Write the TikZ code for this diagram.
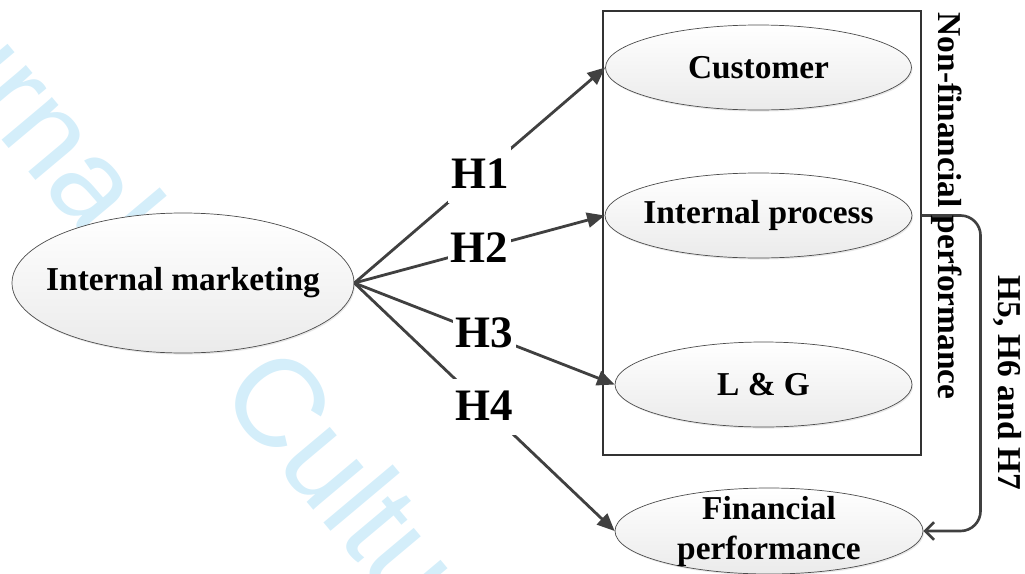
\documentclass[tikz,border=0pt]{standalone}
\usepackage{fontspec}
\setmainfont{Liberation Serif}
\newfontfamily\wmfont{Liberation Sans}
\usetikzlibrary{arrows.meta,shapes.geometric,shadows}
\definecolor{linegray}{RGB}{64,64,64}
\definecolor{wmcyan}{RGB}{212,238,250}

\begin{document}
\begin{tikzpicture}[
		construct/.style={ellipse, draw=black!70, line width=0.4pt, top color=white, bottom color=black!8,
				drop shadow={opacity=0.18, shadow xshift=0.6pt, shadow yshift=-0.9pt},
				font=\fontsize{19}{22.8}\selectfont\bfseries, align=center, inner xsep=-12pt, inner ysep=-6pt},
		hypo/.style={line width=1.6pt, draw=linegray, -{Triangle[length=10pt,width=8.5pt]}},
		hlabel/.style={fill=white, font=\fontsize{25.6}{30}\selectfont\bfseries,
				inner xsep=1.5pt, inner ysep=0pt, text height=23.5pt, text depth=8.4pt},
		vlabel/.style={rotate=-90, font=\fontsize{19}{22.8}\selectfont\bfseries, inner sep=0pt},
		feedback/.style={line width=1.5pt, draw=linegray, rounded corners=0.4cm, -{Straight Barb[length=5pt,width=10pt]}},
		watermark/.style={text=wmcyan, font=\wmfont\fontsize{71}{80}\selectfont, rotate=-50, inner sep=0pt}
	]
		\useasboundingbox (0,0) rectangle (20.5,-11.46);

		% Faint watermark behind everything
		\begin{scope}
			\clip (0,0) rectangle (20.5,-11.46);
			\node[watermark, anchor=base east] (wmj) at (2.08,-5.22) {Journal};
			\node[watermark, anchor=base west] (wmc) at (4.32,-7.88) {Cultu};
		\end{scope}

		% Frame around the non-financial constructs
		\node[draw=black!80, line width=0.6pt, minimum width=6.36cm, minimum height=8.88cm, inner sep=0pt] (box) at (15.24,-4.66) {};

		% Constructs
		\node[construct, minimum width=6.84cm, minimum height=2.8cm] (im) at (3.66,-5.66) {Internal marketing};
		\node[construct, minimum width=6.12cm, minimum height=1.7cm] (cust) at (15.17,-1.35) {Customer};
		\node[construct, minimum width=6.14cm, minimum height=1.7cm] (proc) at (15.17,-4.31) {Internal process};
		\node[construct, minimum width=5.94cm, minimum height=1.7cm] (lg) at (15.27,-7.69) {L \& G};
		\node[construct, minimum width=6.16cm, minimum height=1.72cm] (fin) at (15.38,-10.62) {Financial\\performance};

		% Hypotheses H1 to H4
		\draw[hypo] (im.east) -- node[hlabel] {H1} (cust.west);
		\draw[hypo] (im.east) -- node[hlabel] {H2} (proc.west);
		\draw[hypo] (im.east) -- node[hlabel] {H3} (lg.west);
		\draw[hypo] (im.east) -- node[hlabel] {H4} (fin.west);

		% Link from non-financial to financial performance
		\draw[feedback] (box.east |- proc.east) -- ++(1.18,0) |- (fin.east);

		% Side labels
		\node[vlabel] (nonfin) at (18.94,-4.12) {Non-financial performance};
		\node[vlabel] (h567) at (20.14,-7.66) {H5, H6 and H7};
	\end{tikzpicture}
\end{document}
